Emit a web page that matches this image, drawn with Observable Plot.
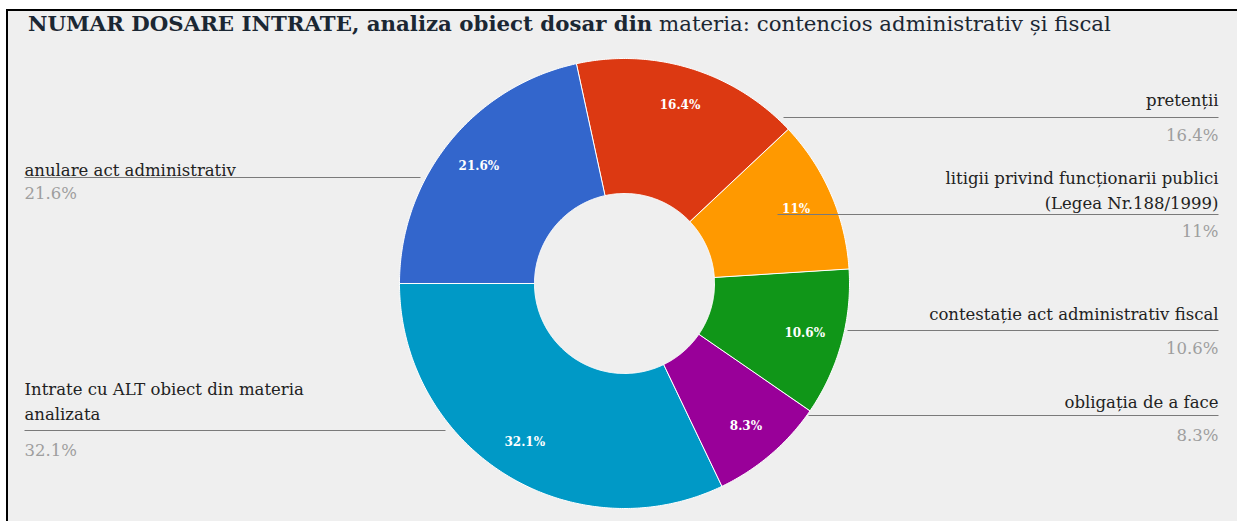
<!DOCTYPE html>
<html>
<head>
<meta charset="utf-8">
<script src="https://cdn.jsdelivr.net/npm/d3@7"></script>
<script src="https://cdn.jsdelivr.net/npm/@observablehq/plot@0.6"></script>
<style>
  html, body { margin: 0; padding: 0; background: #ffffff; }
  #frame {
    position: absolute; left: 6px; top: 9px; width: 1231px; height: 512px;
    background: #efefef; border-top: 2px solid #000; border-left: 2px solid #000;
    box-sizing: border-box; overflow: hidden;
  }
  #title {
    height: 34px; padding-left: 20px; box-sizing: border-box;
    font-family: "DejaVu Serif", serif; font-size: 21.3px; line-height: 25px;
    color: #1b2733; white-space: nowrap;
  }
  #title b { font-weight: bold; }
  #chart svg { display: block; }
</style>
</head>
<body>
<div id="frame">
  <div id="title"><b>NUMAR DOSARE INTRATE, analiza obiect dosar din</b> materia: contencios administrativ și fiscal</div>
  <div id="chart"></div>
</div>
<script>
// ---- data ----
const categories = [
  "anulare act administrativ",
  "pretenții",
  "litigii privind funcționarii publici\n(Legea Nr.188/1999)",
  "contestație act administrativ fiscal",
  "obligația de a face",
  "Intrate cu ALT obiect din materia\nanalizata"
];
const shares = [21.6, 16.4, 11, 10.6, 8.3, 32.1];
const pctLabels = ["21.6%", "16.4%", "11%", "10.6%", "8.3%", "32.1%"];
const colors = ["#3366cc", "#dc3912", "#ff9900", "#109618", "#990099", "#0099c6"];

// ---- layout (page coordinates) ----
const CX = 624, CY = 283, R_OUT = 225, R_IN = 90, R_LABEL = 187;
const side =   ["left", "right", "right", "right", "right", "left"];
const nameY =  [168, 98, 188, 312, 400, 399];
const lineY =  [177, 117, 214, 330, 415, 430];
const pctY =   [193, 135, 231, 348, 435, 450];
const lineIn = [420, 783, 777, 847, 808, 445];
const LEFT_X = 24, RIGHT_X = 1218;

const pie = d3.pie().sort(null).value(d => d)
  .startAngle(-Math.PI / 2).endAngle(3 * Math.PI / 2)(shares);

const slices = pie.map((a, i) => ({ ...a, name: categories[i], idx: i }));

// polygon vertices of each annular sector
const verts = [];
for (const s of slices) {
  const n = Math.max(4, Math.ceil((s.endAngle - s.startAngle) / 0.01));
  for (let k = 0; k <= n; k++) {
    const t = s.startAngle + (s.endAngle - s.startAngle) * k / n;
    verts.push({ name: s.name, x: CX + R_OUT * Math.sin(t), y: CY - R_OUT * Math.cos(t) });
  }
  for (let k = n; k >= 0; k--) {
    const t = s.startAngle + (s.endAngle - s.startAngle) * k / n;
    verts.push({ name: s.name, x: CX + R_IN * Math.sin(t), y: CY - R_IN * Math.cos(t) });
  }
}

const inside = slices.map(s => {
  const m = (s.startAngle + s.endAngle) / 2;
  return { x: CX + R_LABEL * Math.sin(m), y: CY - R_LABEL * Math.cos(m), text: pctLabels[s.idx] };
});

const sideRows = categories.map((c, i) => ({
  name: c, pct: pctLabels[i], side: side[i],
  tx: side[i] === "left" ? LEFT_X : RIGHT_X,
  nameY: nameY[i], lineY: lineY[i], pctY: pctY[i], lineIn: lineIn[i]
}));
const leftRows = sideRows.filter(d => d.side === "left");
const rightRows = sideRows.filter(d => d.side === "right");

const W = 1229, H = 476, X0 = 8, Y0 = 45;
const serif = "DejaVu Serif, serif";

const sideText = (rows, anchor) => [
  Plot.text(rows, {
    x: "tx", y: "nameY", text: "name", textAnchor: anchor,
    fill: "#222222", fontSize: 16.5, fontFamily: serif, lineHeight: 1.5
  }),
  Plot.text(rows, {
    x: "tx", y: "pctY", text: "pct", textAnchor: anchor,
    fill: "#9e9e9e", fontSize: 16.5, fontFamily: serif
  })
];

const chart = Plot.plot({
  width: W, height: H, margin: 0,
  x: { domain: [X0, X0 + W], range: [0, W], axis: null },
  y: { domain: [Y0, Y0 + H], range: [0, H], axis: null },
  color: { domain: categories, range: colors },
  style: { background: "transparent", overflow: "visible" },
  marks: [
    Plot.line(verts, { x: "x", y: "y", z: "name", fill: "name", stroke: "#ffffff", strokeWidth: 1, curve: "linear-closed" }),
    Plot.link(sideRows, {
      x1: "tx", x2: "lineIn", y1: "lineY", y2: "lineY",
      stroke: "#7a7a7a", strokeWidth: 1
    }),
    Plot.text(inside, { x: "x", y: "y", text: "text", fill: "#ffffff", fontWeight: "bold", fontSize: 12, fontFamily: serif }),
    ...sideText(leftRows, "start"),
    ...sideText(rightRows, "end")
  ]
});
document.getElementById("chart").appendChild(chart);
</script>
</body>
</html>
